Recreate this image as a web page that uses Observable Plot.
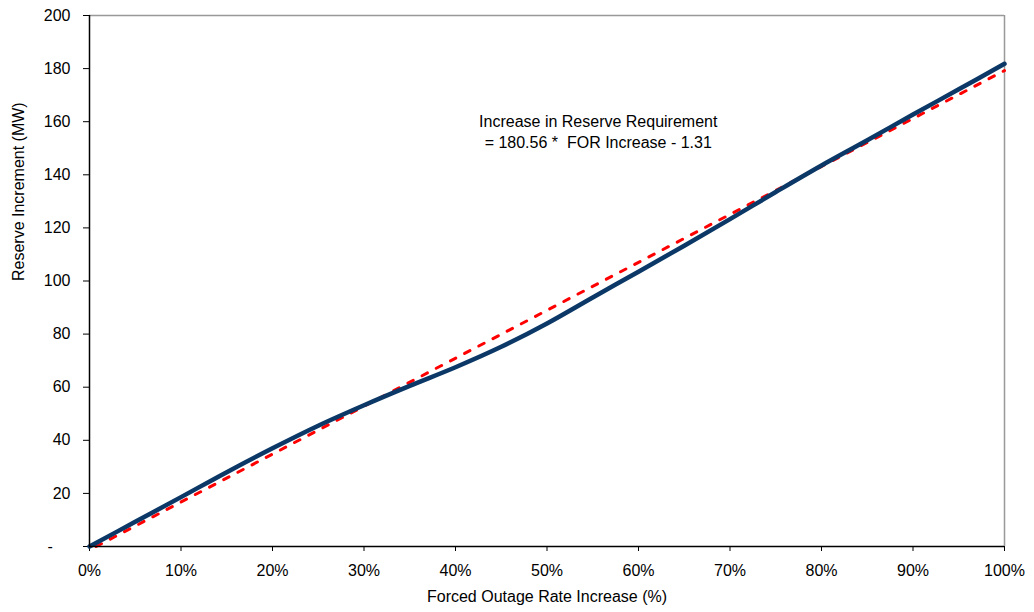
<!DOCTYPE html>
<html>
<head>
<meta charset="utf-8">
<script src="https://cdn.jsdelivr.net/npm/d3@7"></script>
<script src="https://cdn.jsdelivr.net/npm/@observablehq/plot@0.6"></script>
<style>
  html, body { margin: 0; padding: 0; background: #fff; }
  #chart svg { display: block; }
</style>
</head>
<body>
<div id="chart"></div>
<script>
// Forced outage rate increase (fraction) and reserve increment (MW)
const forIncrease = [0, 0.05, 0.10, 0.15, 0.20, 0.25, 0.30, 0.35, 0.40, 0.45, 0.50,
                     0.55, 0.60, 0.65, 0.70, 0.75, 0.80, 0.85, 0.90, 0.95, 1.00];
const reserveMW   = [0, 9.3, 18.6, 28.0, 37.0, 45.5, 53.2, 60.5, 67.5, 75.2, 84.0,
                     93.8, 103.5, 113.3, 123.3, 133.5, 143.5, 153.0, 162.7, 172.2, 181.8];

// Linear trend line endpoints (180.56 * x - 1.31), clipped at 0
const trendX = [0.00726, 1.0];
const trendY = [0, 179.25];

const xTicks = [0, 0.1, 0.2, 0.3, 0.4, 0.5, 0.6, 0.7, 0.8, 0.9, 1.0];
const yTicks = [0, 20, 40, 60, 80, 100, 120, 140, 160, 180, 200];

const xTitle = "Forced Outage Rate Increase (%)";
const yTitle = "Reserve Increment (MW)";
const noteLines = ["Increase in Reserve Requirement", "= 180.56 *  FOR Increase - 1.31"];
const noteX = 0.556;
const noteY = 156.5;

const series = forIncrease.map((x, i) => ({x, y: reserveMW[i]}));
const trend = trendX.map((x, i) => ({x, y: trendY[i]}));

const chart = Plot.plot({
  width: 1034,
  height: 612,
  marginLeft: 89,
  marginRight: 30,
  marginTop: 15,
  marginBottom: 66,
  style: {fontFamily: "'Liberation Sans', Arial, sans-serif", fontSize: "16px", color: "#000", background: "#fff"},
  x: {domain: [0, 1]},
  y: {domain: [0, 200]},
  marks: [
    Plot.ruleY([200], {stroke: "#999", strokeWidth: 1.5}),
    Plot.ruleX([1], {stroke: "#999", strokeWidth: 1.5}),
    Plot.axisX({ticks: xTicks, tickFormat: d3.format(".0%"), tickSize: 5, tickPadding: 13, label: null, fontSize: 16, stroke: "#000"}),
    Plot.axisY({ticks: yTicks, tickFormat: d => d === 0 ? "-\u00a0\u00a0\u00a0\u00a0" : String(d), tickSize: 6, tickPadding: 13, label: null, fontSize: 16}),
    Plot.line(trend, {x: "x", y: "y", stroke: "#ff0000", strokeWidth: 3, strokeDasharray: "6,10"}),
    Plot.line(series, {x: "x", y: "y", stroke: "#0b3866", strokeWidth: 4.5, curve: "catmull-rom"}),
    Plot.ruleX([0], {stroke: "#000", strokeWidth: 1.5}),
    Plot.ruleY([0], {stroke: "#000", strokeWidth: 1.5}),
    Plot.text([noteLines.join("\n")], {x: () => noteX, y: () => noteY, fontSize: 16, lineHeight: 1.3, fill: "#000"}),
    Plot.text([xTitle], {frameAnchor: "bottom", dy: 55, fontSize: 16, fill: "#000"}),
    Plot.text([yTitle], {frameAnchor: "left", dx: -71, rotate: -90, fontSize: 16, fill: "#000"})
  ]
});
document.getElementById("chart").appendChild(chart);
</script>
</body>
</html>
